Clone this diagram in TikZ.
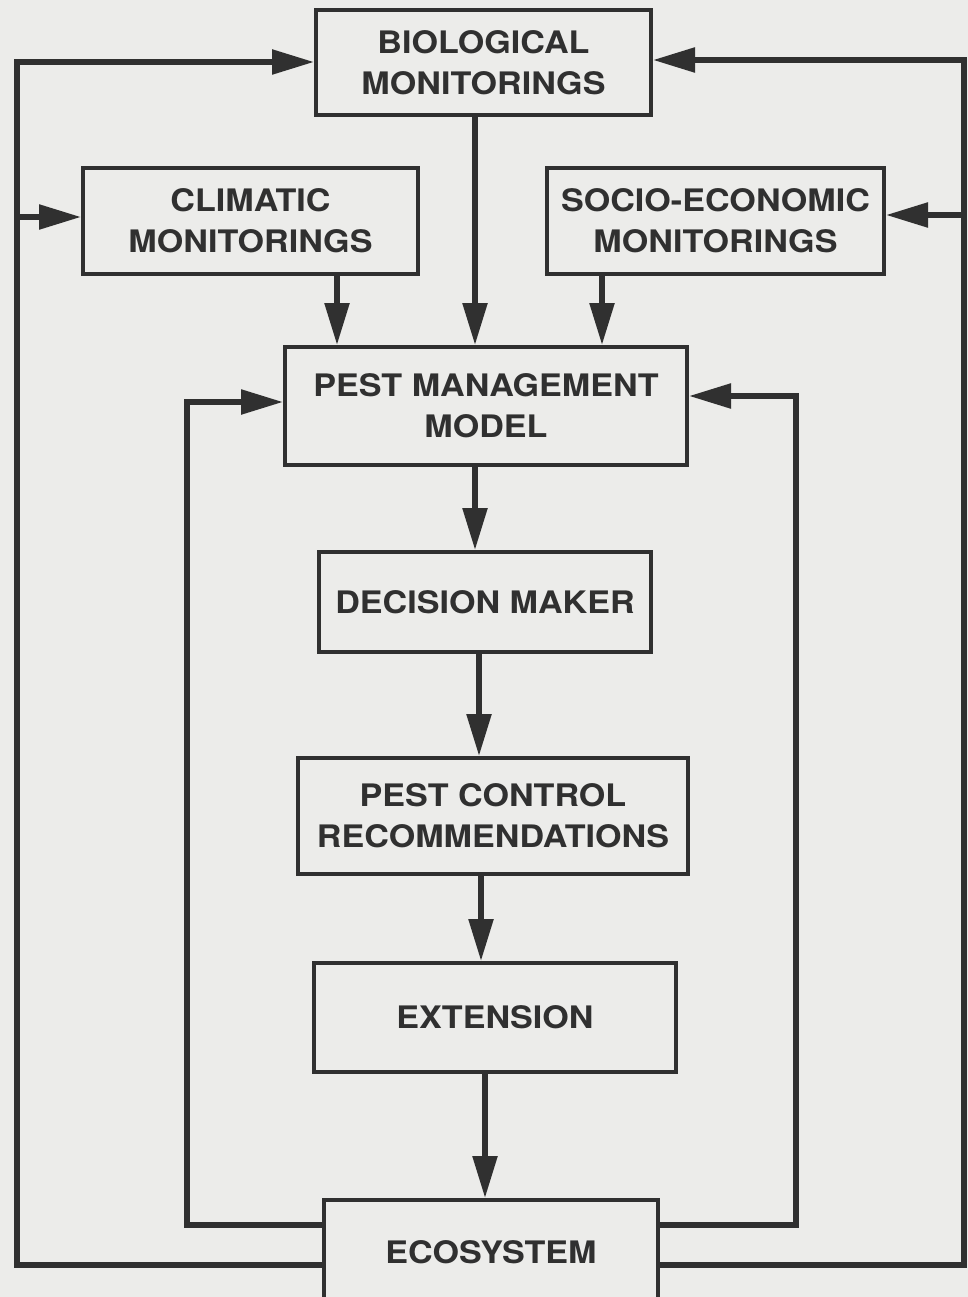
\documentclass[tikz,border=0pt]{standalone}
\usepackage{fontspec}
\setmainfont{TeX Gyre Heros}[FakeStretch=1.1]
\usetikzlibrary{arrows.meta}
\definecolor{paper}{RGB}{236,236,234}
\definecolor{ink}{RGB}{48,48,48}
\tikzset{
  box/.style={draw=ink, line width=4pt, inner sep=0pt, align=center,
    text=ink, font=\fontsize{31}{41}\selectfont\bfseries},
  conn/.style={draw=ink, line width=5.5pt},
  arr/.style={conn, -{Triangle[length=42pt,width=24pt]}}
}
\begin{document}
\begin{tikzpicture}[x=1pt,y=-1pt]
\useasboundingbox (0,0) rectangle (968,1297);
\fill[paper] (0,0) rectangle (968,1297);
\clip (0,0) rectangle (968,1297);

% boxes
\node[box, minimum width=335pt, minimum height=105pt] (bio) at (483.5,62.5) {BIOLOGICAL\\MONITORINGS};
\node[box, minimum width=335pt, minimum height=106pt] (clim) at (250.5,221) {CLIMATIC\\MONITORINGS};
\node[box, minimum width=337pt, minimum height=106pt] (socio) at (715.5,221) {SOCIO-ECONOMIC\\MONITORINGS};
\node[box, minimum width=402pt, minimum height=118pt] (pmm) at (486,406) {PEST MANAGEMENT\\MODEL};
\node[box, minimum width=332pt, minimum height=100pt] (dm) at (485,602) {DECISION MAKER};
\node[box, minimum width=390pt, minimum height=116pt] (pcr) at (493,816) {PEST CONTROL\\RECOMMENDATIONS};
\node[box, minimum width=362pt, minimum height=109pt] (ext) at (495,1017.5) {EXTENSION};
\node[box, minimum width=334pt, minimum height=104pt] (eco) at (491,1252) {ECOSYSTEM};

% column coordinates for vertical arrows
\coordinate (cb) at (475,0);
\coordinate (cc) at (337,0);
\coordinate (cs) at (602,0);
\coordinate (c4) at (475,0);
\coordinate (c5) at (479,0);
\coordinate (c6) at (481,0);
\coordinate (c7) at (485,0);

\draw[arr] (cb |- bio.south) -- (cb |- pmm.north);
\draw[arr] (cc |- clim.south) -- (cc |- pmm.north);
\draw[arr] (cs |- socio.south) -- (cs |- pmm.north);
\draw[arr] (c4 |- pmm.south) -- (c4 |- dm.north);
\draw[arr] (c5 |- dm.south) -- (c5 |- pcr.north);
\draw[arr] (c6 |- pcr.south) -- (c6 |- ext.north);
\draw[arr] (c7 |- ext.south) -- (c7 |- eco.north);

% feedback loops
\coordinate (ol) at (17,1265);
\coordinate (olt) at (17,62);
\coordinate (il) at (187,1225);
\coordinate (ilt) at (187,402);
\coordinate (or) at (964,1265);
\coordinate (ort) at (964,60);
\coordinate (ir) at (796,1225);
\coordinate (irt) at (796,396);

\draw[arr] (eco.west |- ol) -- (ol) -- (olt) -- (bio.west |- olt);
\draw[arr] (ol |- 0,217) -- (clim.west |- 0,217);
\draw[arr] (eco.west |- il) -- (il) -- (ilt) -- (pmm.west |- ilt);
\draw[arr] (eco.east |- or) -- (or) -- (ort) -- (bio.east |- ort);
\draw[arr] (or |- 0,215) -- (socio.east |- 0,215);
\draw[arr] (eco.east |- ir) -- (ir) -- (irt) -- (pmm.east |- irt);
\end{tikzpicture}
\end{document}
